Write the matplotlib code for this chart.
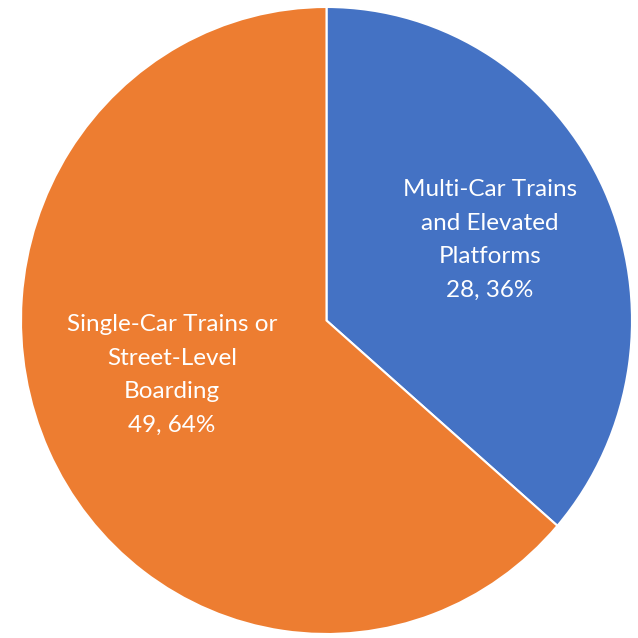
import matplotlib.pyplot as plt

categories = ["Multi-Car Trains\nand Elevated\nPlatforms", "Single-Car Trains or\nStreet-Level\nBoarding"]
counts = [28, 49]
colors = ["#4472C4", "#ED7D31"]
label_pos = [(0.535, 0.257), (-0.506, -0.174)]

plt.rcParams["font.family"] = ["Lato", "DejaVu Sans"]

fig = plt.figure(figsize=(6.38, 6.38), dpi=100)
ax = fig.add_axes([21 / 638, 4 / 638, 611 / 638, 627 / 638])

ax.pie(counts, colors=colors, startangle=90, counterclock=False,
       wedgeprops=dict(edgecolor="white", linewidth=1.5))
ax.set_aspect("auto")
ax.set_xlim(-1, 1)
ax.set_ylim(-1, 1)
ax.axis("off")

total = sum(counts)
for name, n, (x, y) in zip(categories, counts, label_pos):
    pct = round(100 * n / total)
    ax.text(x, y, f"{name}\n{n}, {pct}%", ha="center", va="center",
            color="white", fontsize=17.5, linespacing=1.75)

fig.savefig("out.png", dpi=100)
